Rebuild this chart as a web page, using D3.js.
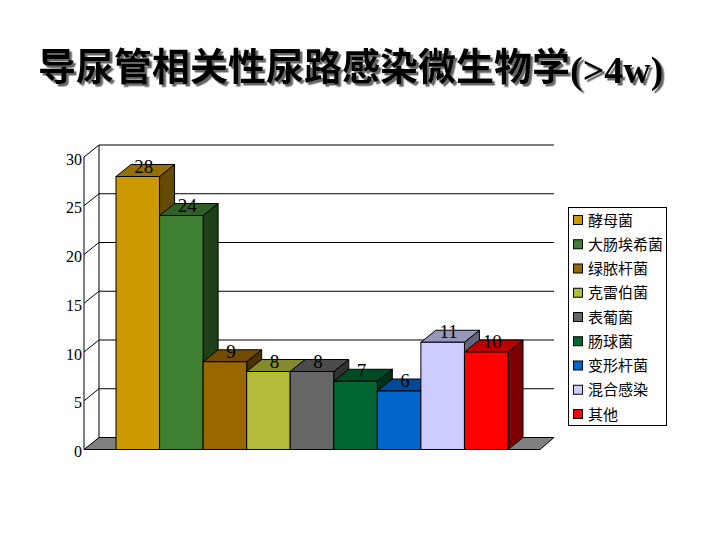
<!DOCTYPE html>
<html>
<head>
<meta charset="utf-8">
<script src="https://cdnjs.cloudflare.com/ajax/libs/d3/7.8.5/d3.min.js"></script>
<style>
html, body { margin: 0; padding: 0; background: #fff; }
svg { display: block; }
.num { font-family: "Liberation Serif", serif; fill: #000; }
.cjk { font-family: "Noto Sans CJK SC", sans-serif; fill: #000; }
</style>
</head>
<body>
<svg id="chart"></svg>
<script>
var width = 720;
var height = 540;

var categories = ["酵母菌", "大肠埃希菌", "绿脓杆菌", "克雷伯菌", "表葡菌", "肠球菌", "变形杆菌", "混合感染", "其他"];
var values = [28, 24, 9, 8, 8, 7, 6, 11, 10];
var colors = ["#CC9900", "#3F8033", "#996600", "#B2BB3A", "#666666", "#006633", "#0066CC", "#CCCCFF", "#FF0000"];
var yTicks = [0, 5, 10, 15, 20, 25, 30];

var depthX = 15;
var depthY = 12;
var bottom = 449.5;

var svg = d3.select("#chart")
  .attr("width", width)
  .attr("height", height);

var y = d3.scaleLinear().domain([0, 30]).range([bottom, 157]);
var x = d3.scaleBand().domain(categories).range([116, 508]);

// title with hard drop shadow
var defs = svg.append("defs");
defs.append("filter")
  .attr("id", "shadow")
  .attr("x", "-5%").attr("y", "-20%")
  .attr("width", "110%").attr("height", "140%")
  .append("feDropShadow")
  .attr("dx", 2.5).attr("dy", 2.5)
  .attr("stdDeviation", 0.4)
  .attr("flood-color", "#666");

var title = svg.append("text")
  .attr("x", 38)
  .attr("y", 80)
  .attr("filter", "url(#shadow)");
title.append("tspan")
  .attr("class", "cjk")
  .style("font-size", "38px")
  .style("font-weight", 700)
  .text("导尿管相关性尿路感染微生物学");
title.append("tspan")
  .attr("class", "num")
  .attr("dy", 3)
  .style("font-size", "38px")
  .style("font-weight", 700)
  .text("(>4w)");

// floor
var floorLeft = 84;
var floorRight = 540;
svg.append("path")
  .attr("d", d3.line()([
    [floorLeft, bottom], [floorLeft + depthX, bottom - depthY],
    [floorRight + depthX - 1, bottom - depthY], [floorRight, bottom]
  ]) + "Z")
  .attr("fill", "#808080")
  .attr("stroke", "#000");

// back wall grid lines and the left wall diagonals
var grid = svg.append("g");
yTicks.forEach(function(t) {
  if (t > 0) {
    grid.append("line")
      .attr("x1", floorLeft + depthX).attr("x2", floorRight + depthX - 1)
      .attr("y1", y(t) - depthY).attr("y2", y(t) - depthY)
      .attr("stroke", "#000");
    grid.append("line")
      .attr("x1", floorLeft).attr("x2", floorLeft + depthX)
      .attr("y1", y(t)).attr("y2", y(t) - depthY)
      .attr("stroke", "#000");
  }
});
grid.append("line")
  .attr("x1", floorLeft).attr("x2", floorLeft)
  .attr("y1", y(30)).attr("y2", bottom)
  .attr("stroke", "#000");
grid.append("line")
  .attr("x1", floorLeft + depthX).attr("x2", floorLeft + depthX)
  .attr("y1", y(30) - depthY).attr("y2", bottom - depthY)
  .attr("stroke", "#000");

var yAxis = svg.append("g")
  .attr("transform", "translate(" + floorLeft + ",2)")
  .call(d3.axisLeft(y).tickValues(yTicks).tickSize(0).tickPadding(2));
yAxis.select(".domain").remove();
yAxis.selectAll("text")
  .attr("class", "num")
  .style("font-size", "16px");

// bars, left to right so each one covers the side of the one before
var bars = svg.selectAll(".bar")
  .data(values)
  .enter().append("g")
  .attr("class", "bar");

bars.append("path")
  .attr("d", function(d, i) {
    var x1 = x(categories[i]) + x.bandwidth();
    return d3.line()([
      [x1, y(d)], [x1 + depthX, y(d) - depthY],
      [x1 + depthX, bottom - depthY], [x1, bottom]
    ]) + "Z";
  })
  .attr("fill", function(d, i) { return d3.rgb(colors[i]).darker(2); })
  .attr("stroke", "#000");

bars.append("path")
  .attr("d", function(d, i) {
    var x0 = x(categories[i]);
    var x1 = x0 + x.bandwidth();
    return d3.line()([
      [x0, y(d)], [x0 + depthX, y(d) - depthY],
      [x1 + depthX, y(d) - depthY], [x1, y(d)]
    ]) + "Z";
  })
  .attr("fill", function(d, i) { return d3.rgb(colors[i]).darker(0.85); })
  .attr("stroke", "#000");

bars.append("rect")
  .attr("x", function(d, i) { return x(categories[i]); })
  .attr("y", function(d) { return y(d); })
  .attr("width", x.bandwidth())
  .attr("height", function(d) { return bottom - y(d); })
  .attr("fill", function(d, i) { return colors[i]; })
  .attr("stroke", "#000");

// value labels on top of everything
svg.selectAll(".value")
  .data(values)
  .enter().append("text")
  .attr("class", "value num")
  .attr("x", function(d, i) { return x(categories[i]) + x.bandwidth() / 2 + depthX / 2 - 1.5; })
  .attr("y", function(d) { return y(d) - 4; })
  .attr("text-anchor", "middle")
  .style("font-size", "19px")
  .text(function(d) { return d; });

// legend
var legendY = d3.scalePoint().domain(categories).range([220, 414]);
svg.append("rect")
  .attr("x", 568.5).attr("y", 207.5)
  .attr("width", 98).attr("height", 218)
  .attr("fill", "#fff")
  .attr("stroke", "#000");

var legend = svg.selectAll(".legend-item")
  .data(categories)
  .enter().append("g")
  .attr("class", "legend-item")
  .attr("transform", function(d) { return "translate(0," + legendY(d) + ")"; });

legend.append("rect")
  .attr("x", 573.5).attr("y", -4.5)
  .attr("width", 9).attr("height", 9)
  .attr("fill", function(d, i) { return colors[i]; })
  .attr("stroke", "#000");

legend.append("text")
  .attr("class", "cjk")
  .attr("x", 588)
  .attr("y", 5.5)
  .style("font-size", "15px")
  .text(function(d) { return d; });
</script>
</body>
</html>
